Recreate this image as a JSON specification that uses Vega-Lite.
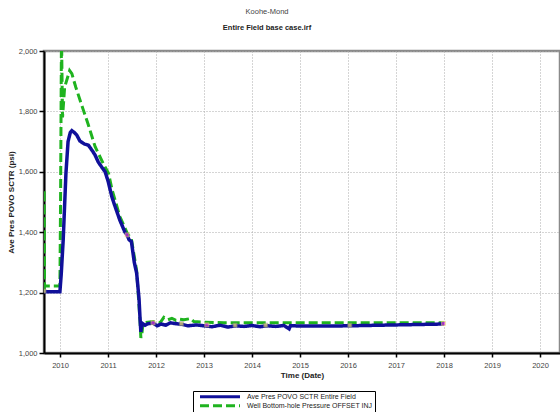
{
  "$schema": "https://vega.github.io/schema/vega-lite/v6.json",
  "width": 516,
  "height": 302,
  "autosize": "none",
  "padding": {"left": 44, "top": 51, "right": 0, "bottom": 59},
  "background": "white",
  "config": {
    "font": "Liberation Sans",
    "view": {"stroke": "#8a8a8a", "strokeWidth": 2.5}
  },
  "title": {
    "text": "Koohe-Mond",
    "subtitle": "Entire  Field base case.irf",
    "fontSize": 7.5,
    "fontWeight": "normal",
    "color": "#444",
    "subtitleFontSize": 7.5,
    "subtitleFontWeight": "bold",
    "subtitleColor": "#222",
    "subtitlePadding": 8,
    "dx": -35,
    "offset": 16,
    "anchor": "middle"
  },
  "datasets": {
    "lines": [
      {"date": "2009-09-01", "series": "Ave Pres POVO SCTR Entire  Field", "value": 1203},
      {"date": "2009-12-31", "series": "Ave Pres POVO SCTR Entire  Field", "value": 1203},
      {"date": "2010-01-10", "series": "Ave Pres POVO SCTR Entire  Field", "value": 1260},
      {"date": "2010-01-25", "series": "Ave Pres POVO SCTR Entire  Field", "value": 1374},
      {"date": "2010-02-15", "series": "Ave Pres POVO SCTR Entire  Field", "value": 1596},
      {"date": "2010-03-03", "series": "Ave Pres POVO SCTR Entire  Field", "value": 1700},
      {"date": "2010-03-20", "series": "Ave Pres POVO SCTR Entire  Field", "value": 1730},
      {"date": "2010-04-01", "series": "Ave Pres POVO SCTR Entire  Field", "value": 1736},
      {"date": "2010-04-20", "series": "Ave Pres POVO SCTR Entire  Field", "value": 1730},
      {"date": "2010-05-08", "series": "Ave Pres POVO SCTR Entire  Field", "value": 1722},
      {"date": "2010-06-01", "series": "Ave Pres POVO SCTR Entire  Field", "value": 1702},
      {"date": "2010-06-15", "series": "Ave Pres POVO SCTR Entire  Field", "value": 1698},
      {"date": "2010-07-05", "series": "Ave Pres POVO SCTR Entire  Field", "value": 1692},
      {"date": "2010-08-05", "series": "Ave Pres POVO SCTR Entire  Field", "value": 1688},
      {"date": "2010-09-08", "series": "Ave Pres POVO SCTR Entire  Field", "value": 1667},
      {"date": "2010-09-25", "series": "Ave Pres POVO SCTR Entire  Field", "value": 1655},
      {"date": "2010-10-18", "series": "Ave Pres POVO SCTR Entire  Field", "value": 1633},
      {"date": "2010-11-20", "series": "Ave Pres POVO SCTR Entire  Field", "value": 1612},
      {"date": "2010-12-10", "series": "Ave Pres POVO SCTR Entire  Field", "value": 1600},
      {"date": "2011-01-01", "series": "Ave Pres POVO SCTR Entire  Field", "value": 1570},
      {"date": "2011-01-30", "series": "Ave Pres POVO SCTR Entire  Field", "value": 1518},
      {"date": "2011-02-20", "series": "Ave Pres POVO SCTR Entire  Field", "value": 1490},
      {"date": "2011-04-01", "series": "Ave Pres POVO SCTR Entire  Field", "value": 1440},
      {"date": "2011-05-10", "series": "Ave Pres POVO SCTR Entire  Field", "value": 1400},
      {"date": "2011-05-26", "series": "Ave Pres POVO SCTR Entire  Field", "value": 1391},
      {"date": "2011-06-10", "series": "Ave Pres POVO SCTR Entire  Field", "value": 1375},
      {"date": "2011-06-28", "series": "Ave Pres POVO SCTR Entire  Field", "value": 1369},
      {"date": "2011-07-20", "series": "Ave Pres POVO SCTR Entire  Field", "value": 1300},
      {"date": "2011-08-07", "series": "Ave Pres POVO SCTR Entire  Field", "value": 1264},
      {"date": "2011-08-25", "series": "Ave Pres POVO SCTR Entire  Field", "value": 1180},
      {"date": "2011-09-01", "series": "Ave Pres POVO SCTR Entire  Field", "value": 1120},
      {"date": "2011-09-08", "series": "Ave Pres POVO SCTR Entire  Field", "value": 1070},
      {"date": "2011-09-12", "series": "Ave Pres POVO SCTR Entire  Field", "value": 1085},
      {"date": "2011-09-20", "series": "Ave Pres POVO SCTR Entire  Field", "value": 1098},
      {"date": "2011-10-10", "series": "Ave Pres POVO SCTR Entire  Field", "value": 1092},
      {"date": "2011-11-01", "series": "Ave Pres POVO SCTR Entire  Field", "value": 1097},
      {"date": "2011-12-10", "series": "Ave Pres POVO SCTR Entire  Field", "value": 1099},
      {"date": "2012-01-10", "series": "Ave Pres POVO SCTR Entire  Field", "value": 1090},
      {"date": "2012-02-10", "series": "Ave Pres POVO SCTR Entire  Field", "value": 1096},
      {"date": "2012-03-15", "series": "Ave Pres POVO SCTR Entire  Field", "value": 1092},
      {"date": "2012-04-20", "series": "Ave Pres POVO SCTR Entire  Field", "value": 1100},
      {"date": "2012-06-01", "series": "Ave Pres POVO SCTR Entire  Field", "value": 1097},
      {"date": "2012-07-15", "series": "Ave Pres POVO SCTR Entire  Field", "value": 1095},
      {"date": "2012-09-01", "series": "Ave Pres POVO SCTR Entire  Field", "value": 1090},
      {"date": "2012-11-01", "series": "Ave Pres POVO SCTR Entire  Field", "value": 1093},
      {"date": "2013-01-01", "series": "Ave Pres POVO SCTR Entire  Field", "value": 1090},
      {"date": "2013-03-01", "series": "Ave Pres POVO SCTR Entire  Field", "value": 1087},
      {"date": "2013-05-01", "series": "Ave Pres POVO SCTR Entire  Field", "value": 1092},
      {"date": "2013-07-01", "series": "Ave Pres POVO SCTR Entire  Field", "value": 1086},
      {"date": "2013-09-01", "series": "Ave Pres POVO SCTR Entire  Field", "value": 1090},
      {"date": "2013-11-01", "series": "Ave Pres POVO SCTR Entire  Field", "value": 1088},
      {"date": "2014-01-01", "series": "Ave Pres POVO SCTR Entire  Field", "value": 1091},
      {"date": "2014-03-01", "series": "Ave Pres POVO SCTR Entire  Field", "value": 1087},
      {"date": "2014-05-01", "series": "Ave Pres POVO SCTR Entire  Field", "value": 1090},
      {"date": "2014-07-01", "series": "Ave Pres POVO SCTR Entire  Field", "value": 1088},
      {"date": "2014-09-01", "series": "Ave Pres POVO SCTR Entire  Field", "value": 1091},
      {"date": "2014-10-10", "series": "Ave Pres POVO SCTR Entire  Field", "value": 1080},
      {"date": "2014-10-20", "series": "Ave Pres POVO SCTR Entire  Field", "value": 1090},
      {"date": "2015-06-01", "series": "Ave Pres POVO SCTR Entire  Field", "value": 1089},
      {"date": "2016-01-01", "series": "Ave Pres POVO SCTR Entire  Field", "value": 1090},
      {"date": "2017-01-01", "series": "Ave Pres POVO SCTR Entire  Field", "value": 1093},
      {"date": "2018-01-01", "series": "Ave Pres POVO SCTR Entire  Field", "value": 1096},
      {"date": "2009-09-01", "series": "Well Bottom-hole Pressure OFFSET INJ", "value": 1200},
      {"date": "2009-09-02", "series": "Well Bottom-hole Pressure OFFSET INJ", "value": 1540},
      {"date": "2009-09-05", "series": "Well Bottom-hole Pressure OFFSET INJ", "value": 1222},
      {"date": "2009-12-31", "series": "Well Bottom-hole Pressure OFFSET INJ", "value": 1222},
      {"date": "2010-01-05", "series": "Well Bottom-hole Pressure OFFSET INJ", "value": 1500},
      {"date": "2010-01-12", "series": "Well Bottom-hole Pressure OFFSET INJ", "value": 2060},
      {"date": "2010-01-20", "series": "Well Bottom-hole Pressure OFFSET INJ", "value": 1780},
      {"date": "2010-02-05", "series": "Well Bottom-hole Pressure OFFSET INJ", "value": 1880},
      {"date": "2010-03-15", "series": "Well Bottom-hole Pressure OFFSET INJ", "value": 1935},
      {"date": "2010-04-01", "series": "Well Bottom-hole Pressure OFFSET INJ", "value": 1925},
      {"date": "2010-05-01", "series": "Well Bottom-hole Pressure OFFSET INJ", "value": 1880},
      {"date": "2010-06-27", "series": "Well Bottom-hole Pressure OFFSET INJ", "value": 1805},
      {"date": "2010-08-01", "series": "Well Bottom-hole Pressure OFFSET INJ", "value": 1760},
      {"date": "2010-09-25", "series": "Well Bottom-hole Pressure OFFSET INJ", "value": 1683},
      {"date": "2010-11-25", "series": "Well Bottom-hole Pressure OFFSET INJ", "value": 1628},
      {"date": "2011-01-05", "series": "Well Bottom-hole Pressure OFFSET INJ", "value": 1595},
      {"date": "2011-02-01", "series": "Well Bottom-hole Pressure OFFSET INJ", "value": 1540},
      {"date": "2011-04-01", "series": "Well Bottom-hole Pressure OFFSET INJ", "value": 1452},
      {"date": "2011-05-26", "series": "Well Bottom-hole Pressure OFFSET INJ", "value": 1398},
      {"date": "2011-06-28", "series": "Well Bottom-hole Pressure OFFSET INJ", "value": 1377},
      {"date": "2011-08-07", "series": "Well Bottom-hole Pressure OFFSET INJ", "value": 1272},
      {"date": "2011-09-01", "series": "Well Bottom-hole Pressure OFFSET INJ", "value": 1110},
      {"date": "2011-09-08", "series": "Well Bottom-hole Pressure OFFSET INJ", "value": 1050},
      {"date": "2011-09-15", "series": "Well Bottom-hole Pressure OFFSET INJ", "value": 1060},
      {"date": "2011-09-25", "series": "Well Bottom-hole Pressure OFFSET INJ", "value": 1100},
      {"date": "2011-11-01", "series": "Well Bottom-hole Pressure OFFSET INJ", "value": 1102},
      {"date": "2011-12-10", "series": "Well Bottom-hole Pressure OFFSET INJ", "value": 1104},
      {"date": "2012-02-01", "series": "Well Bottom-hole Pressure OFFSET INJ", "value": 1100},
      {"date": "2012-03-01", "series": "Well Bottom-hole Pressure OFFSET INJ", "value": 1118},
      {"date": "2012-04-01", "series": "Well Bottom-hole Pressure OFFSET INJ", "value": 1110},
      {"date": "2012-05-01", "series": "Well Bottom-hole Pressure OFFSET INJ", "value": 1115},
      {"date": "2012-06-01", "series": "Well Bottom-hole Pressure OFFSET INJ", "value": 1108},
      {"date": "2012-07-01", "series": "Well Bottom-hole Pressure OFFSET INJ", "value": 1112},
      {"date": "2012-08-01", "series": "Well Bottom-hole Pressure OFFSET INJ", "value": 1110},
      {"date": "2012-09-20", "series": "Well Bottom-hole Pressure OFFSET INJ", "value": 1114},
      {"date": "2012-10-15", "series": "Well Bottom-hole Pressure OFFSET INJ", "value": 1104},
      {"date": "2013-01-01", "series": "Well Bottom-hole Pressure OFFSET INJ", "value": 1102},
      {"date": "2013-06-01", "series": "Well Bottom-hole Pressure OFFSET INJ", "value": 1100},
      {"date": "2014-01-01", "series": "Well Bottom-hole Pressure OFFSET INJ", "value": 1100},
      {"date": "2015-01-01", "series": "Well Bottom-hole Pressure OFFSET INJ", "value": 1100},
      {"date": "2016-01-01", "series": "Well Bottom-hole Pressure OFFSET INJ", "value": 1100},
      {"date": "2017-01-01", "series": "Well Bottom-hole Pressure OFFSET INJ", "value": 1100},
      {"date": "2018-01-01", "series": "Well Bottom-hole Pressure OFFSET INJ", "value": 1100}
    ],
    "markers": [
      {"date": "2009-09-01", "value": 1205, "kind": "A"},
      {"date": "2011-05-26", "value": 1391, "kind": "B"},
      {"date": "2011-12-10", "value": 1100, "kind": "B"},
      {"date": "2012-07-12", "value": 1097, "kind": "A"},
      {"date": "2013-01-22", "value": 1093, "kind": "B"},
      {"date": "2013-08-25", "value": 1092, "kind": "A"},
      {"date": "2014-04-15", "value": 1092, "kind": "A"},
      {"date": "2016-01-15", "value": 1092, "kind": "A"},
      {"date": "2017-12-28", "value": 1098, "kind": "B"}
    ]
  },
  "encoding": {
    "x": {
      "field": "date",
      "type": "temporal",
      "scale": {"domain": [{"year": 2009, "month": "Sep", "date": 1}, {"year": 2020, "month": "Jun", "date": 1}]},
      "axis": {
        "title": "Time (Date)",
        "titleFontSize": 8,
        "titleFontWeight": "bold",
        "titleColor": "#222",
        "titlePadding": 3,
        "values": [
          {"year": 2010, "month": "Jan", "date": 1},
          {"year": 2011, "month": "Jan", "date": 1},
          {"year": 2012, "month": "Jan", "date": 1},
          {"year": 2013, "month": "Jan", "date": 1},
          {"year": 2014, "month": "Jan", "date": 1},
          {"year": 2015, "month": "Jan", "date": 1},
          {"year": 2016, "month": "Jan", "date": 1},
          {"year": 2017, "month": "Jan", "date": 1},
          {"year": 2018, "month": "Jan", "date": 1},
          {"year": 2019, "month": "Jan", "date": 1},
          {"year": 2020, "month": "Jan", "date": 1}
        ],
        "format": "%Y",
        "labelFontSize": 7.5,
        "labelColor": "#444",
        "labelPadding": 4,
        "domainColor": "#000",
        "domainWidth": 2,
        "tickColor": "#000",
        "tickWidth": 1.5,
        "tickSize": 4,
        "grid": true,
        "gridColor": "#aaa",
        "gridDash": [1, 2],
        "gridWidth": 1
      }
    },
    "y": {
      "field": "value",
      "type": "quantitative",
      "scale": {"domain": [1000, 2000], "nice": false, "zero": false},
      "axis": {
        "title": "Ave Pres POVO SCTR (psi)",
        "titleFontSize": 8,
        "titleFontWeight": "bold",
        "titleColor": "#222",
        "titlePadding": 3,
        "values": [1000, 1200, 1400, 1600, 1800, 2000],
        "format": ",.0f",
        "labelFontSize": 7.5,
        "labelColor": "#444",
        "labelPadding": 2,
        "domainColor": "#000",
        "domainWidth": 2,
        "tickColor": "#000",
        "tickWidth": 1.5,
        "tickSize": 5,
        "grid": true,
        "gridColor": "#aaa",
        "gridDash": [1, 2],
        "gridWidth": 1
      }
    }
  },
  "layer": [
    {
      "data": {"name": "lines"},
      "transform": [{"filter": "datum.series === 'Well Bottom-hole Pressure OFFSET INJ'"}],
      "mark": {"type": "line", "strokeWidth": 3, "clip": true, "interpolate": "linear"},
      "encoding": {
        "color": {
          "field": "series",
          "type": "nominal",
          "scale": {"domain": ["Ave Pres POVO SCTR Entire  Field", "Well Bottom-hole Pressure OFFSET INJ"], "range": ["#10109a", "#1fb31f"]},
          "legend": {
            "title": null,
            "orient": "none",
            "legendX": 149,
            "legendY": 340,
            "direction": "vertical",
            "strokeColor": "#000",
            "padding": 2,
            "fillColor": "white",
            "labelFontSize": 7,
            "labelColor": "#222",
            "rowPadding": 0,
            "clipHeight": 7.5,
            "symbolType": "M-8,0H8",
            "symbolSize": 25,
            "symbolStrokeWidth": 3,
            "symbolOffset": 21,
            "labelOffset": 23
          }
        },
        "strokeDash": {
          "field": "series",
          "type": "nominal",
          "scale": {"domain": ["Ave Pres POVO SCTR Entire  Field", "Well Bottom-hole Pressure OFFSET INJ"], "range": [[1, 0], [9, 4]]},
          "legend": null
        }
      }
    },
    {
      "data": {"name": "lines"},
      "transform": [{"filter": "datum.series === 'Ave Pres POVO SCTR Entire  Field'"}],
      "mark": {"type": "line", "strokeWidth": 3.5, "clip": true},
      "encoding": {
        "color": {"field": "series", "type": "nominal"},
        "strokeDash": {"field": "series", "type": "nominal"}
      }
    },
    {
      "data": {"name": "markers"},
      "transform": [{"filter": "datum.kind === 'A'"}],
      "mark": {"type": "square", "size": 16, "filled": true, "fill": "#f3e46a", "stroke": "#888", "strokeWidth": 0.8, "clip": true},
      "encoding": {}
    },
    {
      "data": {"name": "markers"},
      "transform": [{"filter": "datum.kind === 'B'"}],
      "mark": {"type": "square", "size": 16, "filled": true, "fill": "#e040d8", "stroke": "#f3e46a", "strokeWidth": 0.8, "clip": true},
      "encoding": {}
    }
  ]
}
